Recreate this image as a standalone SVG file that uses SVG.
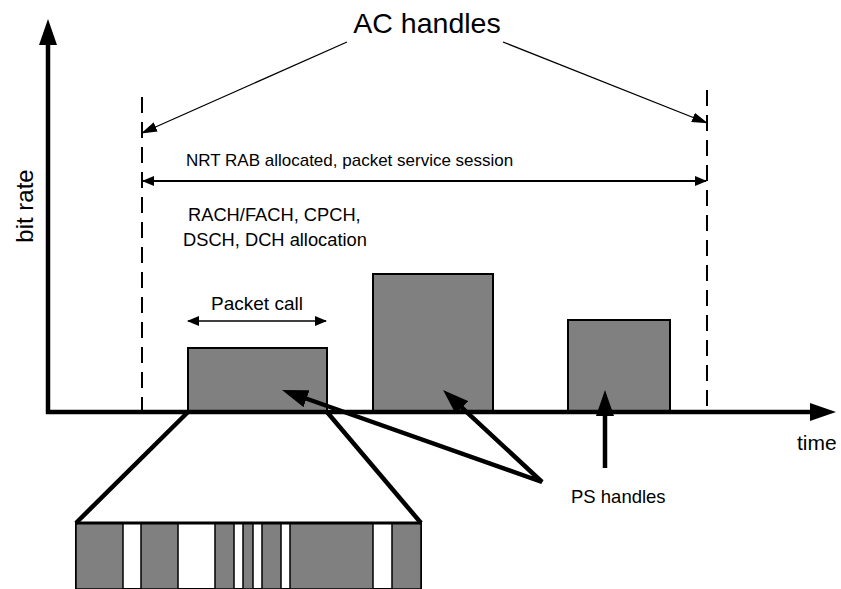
<svg xmlns="http://www.w3.org/2000/svg" width="841" height="589" viewBox="0 0 841 589">
<style>
text{font-family:"Liberation Sans",Arial,sans-serif;fill:#000}
.box{fill:#808080;stroke:#000;stroke-width:2}
.seg{fill:#808080;stroke:#000;stroke-width:1.5}
.thick{stroke:#000;stroke-width:4.5;fill:none}
.thin{stroke:#000;stroke-width:1.3;fill:none}
.dash{stroke:#000;stroke-width:2;stroke-dasharray:16 9;fill:none}
</style>
<defs>
<marker id="big" markerUnits="userSpaceOnUse" markerWidth="26" markerHeight="18" refX="5" refY="9" orient="auto-start-reverse"><path d="M0,0 L26,9 L0,18 z" fill="#000"/></marker>
<marker id="sm" markerUnits="userSpaceOnUse" markerWidth="16" markerHeight="10" refX="15" refY="5" orient="auto-start-reverse"><path d="M0,0 L16,5 L0,10 z" fill="#000"/></marker>
<marker id="sm2" markerUnits="userSpaceOnUse" markerWidth="12" markerHeight="10" refX="11" refY="5" orient="auto-start-reverse"><path d="M0,0 L12,5 L0,10 z" fill="#000"/></marker>
</defs>

<g id="bars">
<g id="bar1"><rect class="box" x="188" y="348" width="139" height="64"/></g>
<g id="bar2"><rect class="box" x="373" y="274" width="120" height="138"/></g>
<g id="bar3"><rect class="box" x="568" y="320" width="102" height="92"/></g>
</g>

<g id="strip">
<rect x="76" y="523" width="345" height="66" fill="#fff" stroke="#000" stroke-width="2"/>
<rect class="seg" x="76" y="523" width="47" height="66"/>
<rect class="seg" x="141" y="523" width="37" height="66"/>
<rect class="seg" x="215" y="523" width="19" height="66"/>
<rect class="seg" x="243" y="523" width="10" height="66"/>
<rect class="seg" x="262" y="523" width="19" height="66"/>
<rect class="seg" x="290" y="523" width="83" height="66"/>
<rect class="seg" x="392" y="523" width="29" height="66"/>
<line x1="75" y1="523" x2="422" y2="523" stroke="#000" stroke-width="3"/>
</g>

<g id="connectors">
<line class="dash" x1="142" y1="97" x2="142" y2="412"/>
<line class="dash" x1="707" y1="90" x2="707" y2="412"/>
<line class="thick" x1="48" y1="414" x2="48" y2="40" marker-end="url(#big)"/>
<line class="thick" x1="46" y1="412" x2="815" y2="412" marker-end="url(#big)"/>
<line class="thin" x1="347" y1="42" x2="142" y2="133" marker-end="url(#sm)"/>
<line class="thin" x1="503" y1="42" x2="707" y2="123" marker-end="url(#sm)"/>
<line x1="143" y1="181" x2="706" y2="181" stroke="#000" stroke-width="2" marker-start="url(#sm2)" marker-end="url(#sm2)"/>
<line x1="188" y1="321" x2="326" y2="321" stroke="#000" stroke-width="1.5" marker-start="url(#sm2)" marker-end="url(#sm2)"/>
<path class="thick" d="M301.8,397 L542,482 L458.4,404.3" stroke-linejoin="miter" marker-start="url(#big)" marker-end="url(#big)"/>
<line class="thick" x1="605" y1="468" x2="605" y2="411" marker-end="url(#big)"/>
<line class="thick" x1="188" y1="412" x2="76" y2="523"/>
<line class="thick" x1="327" y1="412" x2="421" y2="523"/>
</g>

<g id="labels">
<text x="427" y="33" font-size="28.5" text-anchor="middle">AC handles</text>
<text x="186" y="166" font-size="17">NRT RAB allocated, packet service session</text>
<text x="188" y="221" font-size="18.3">RACH/FACH, CPCH,</text>
<text x="183" y="246" font-size="18.3">DSCH, DCH allocation</text>
<text x="257" y="310" font-size="19" text-anchor="middle">Packet call</text>
<text x="571" y="503" font-size="18.5">PS handles</text>
<text x="797" y="450" font-size="21">time</text>
<text transform="translate(33,206) rotate(-90)" font-size="24" text-anchor="middle">bit rate</text>
</g>
</svg>
